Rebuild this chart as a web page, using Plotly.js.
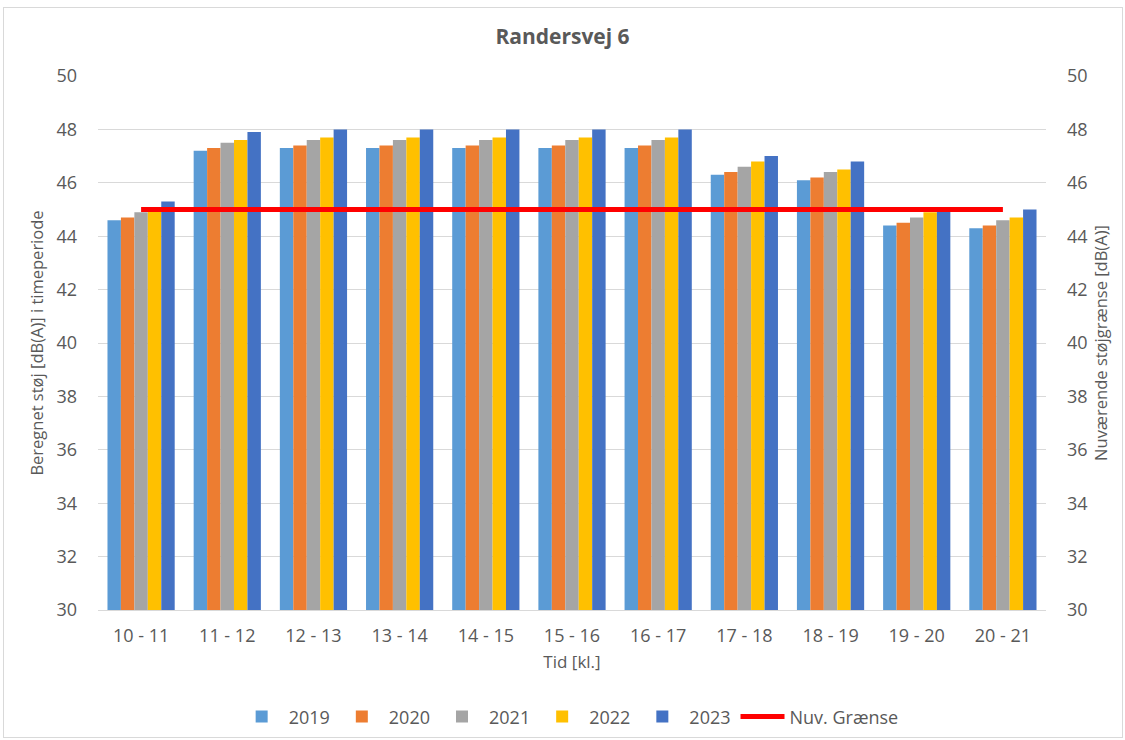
<!DOCTYPE html>
<html>
<head>
<meta charset="utf-8">
<script src="https://cdn.plot.ly/plotly-3.0.1.min.js"></script>
<style>
html,body{margin:0;padding:0;background:#fff;}
#frame{position:absolute;left:3px;top:7px;width:1120px;height:731px;border:1px solid #d9d9d9;box-sizing:border-box;}
#chart{position:absolute;left:0;top:0;width:1125px;height:740px;}
</style>
</head>
<body>
<div id="frame"></div>
<div id="chart"></div>
<script>
const categories = ["10 - 11","11 - 12","12 - 13","13 - 14","14 - 15","15 - 16","16 - 17","17 - 18","18 - 19","19 - 20","20 - 21"];
const v2019 = [44.6, 47.2, 47.3, 47.3, 47.3, 47.3, 47.3, 46.3, 46.1, 44.4, 44.3];
const v2020 = [44.7, 47.3, 47.4, 47.4, 47.4, 47.4, 47.4, 46.4, 46.2, 44.5, 44.4];
const v2021 = [44.9, 47.5, 47.6, 47.6, 47.6, 47.6, 47.6, 46.6, 46.4, 44.7, 44.6];
const v2022 = [45.0, 47.6, 47.7, 47.7, 47.7, 47.7, 47.7, 46.8, 46.5, 44.9, 44.7];
const v2023 = [45.3, 47.9, 48.0, 48.0, 48.0, 48.0, 48.0, 47.0, 46.8, 45.0, 45.0];
const graense = [45, 45, 45, 45, 45, 45, 45, 45, 45, 45, 45];
const seriesNames = ["2019","2020","2021","2022","2023"];
const seriesColors = ["#5B9BD5","#ED7D31","#A5A5A5","#FFC000","#4472C4"];
const seriesValues = [v2019, v2020, v2021, v2022, v2023];

const font = "'Open Sans', 'Noto Sans', sans-serif";
const grey = "#595959";

const traces = seriesValues.map((vals, i) => ({
  type: "bar",
  name: seriesNames[i],
  x: categories,
  y: vals,
  marker: {color: seriesColors[i]},
  hoverinfo: "x+y+name"
}));
traces.push({
  type: "scatter",
  mode: "lines",
  name: "Nuv. Grænse",
  x: categories,
  y: graense,
  yaxis: "y2",
  line: {color: "#FF0000", width: 5}
});

const layout = {
  width: 1125,
  height: 740,
  margin: {l: 98, r: 79, t: 76, b: 130, autoexpand: false},
  paper_bgcolor: "rgba(0,0,0,0)",
  plot_bgcolor: "rgba(0,0,0,0)",
  font: {family: font, color: grey, size: 17},
  title: {text: "<b>Randersvej 6</b>", x: 0.5, xanchor: "center", y: 0.95, yanchor: "middle",
          font: {size: 21, color: grey, family: font}},
  barmode: "group",
  bargap: 0.22,
  bargroupgap: 0,
  showlegend: true,
  legend: {orientation: "h", x: 0.497, xanchor: "center", y: -0.2, yanchor: "middle",
           font: {size: 18, color: grey}, traceorder: "normal", itemwidth: 44},
  xaxis: {
    type: "category",
    showgrid: false,
    showline: true,
    linecolor: "#d9d9d9",
    linewidth: 1,
    ticks: "",
    tickfont: {size: 18, color: grey},
    ticklabelstandoff: 9,
    automargin: false,
    title: {text: "Tid [kl.]", font: {size: 17, color: grey}, standoff: 10}
  },
  yaxis: {
    range: [30, 50],
    dtick: 2,
    showgrid: true,
    gridcolor: "#d9d9d9",
    gridwidth: 1,
    zeroline: false,
    showline: false,
    ticks: "",
    tickfont: {size: 18, color: grey},
    ticklabelstandoff: 20,
    automargin: false,
    title: {text: "Beregnet støj [dB(A)] i timeperiode", font: {size: 16.5, color: grey}, standoff: 8}
  },
  yaxis2: {
    overlaying: "y",
    side: "right",
    range: [30, 50],
    dtick: 2,
    showgrid: false,
    zeroline: false,
    showline: false,
    ticks: "",
    tickfont: {size: 18, color: grey},
    ticklabelstandoff: 20,
    automargin: false,
    title: {text: "Nuværende støjgrænse [dB(A)]", font: {size: 16.5, color: grey}, standoff: 8}
  }
};

Plotly.newPlot("chart", traces, layout, {displayModeBar: false, staticPlot: true});
</script>
</body>
</html>
